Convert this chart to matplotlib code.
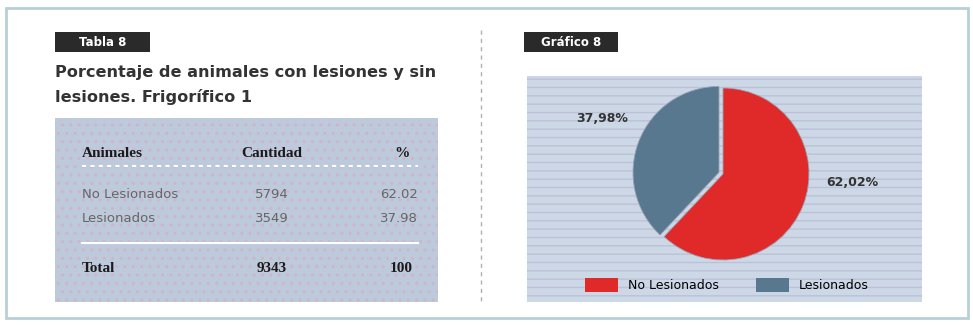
import matplotlib
matplotlib.use("Agg")
import matplotlib.pyplot as plt
from matplotlib.patches import Rectangle, Patch
from matplotlib.lines import Line2D

# Datos
categorias = ["No Lesionados", "Lesionados"]
cantidad = [5794, 3549]
porcentaje = [62.02, 37.98]
total_cantidad = 9343
total_pct = 100
colores = ["#e02a2a", "#587890"]

W, H = 973, 325
fig = plt.figure(figsize=(W / 100, H / 100), dpi=100)
fig.patch.set_facecolor("white")


def fx(x):
    return x / W


def fy(y):
    return 1 - y / H


def caja(x0, y0, x1, y1, **kw):
    r = Rectangle((fx(x0), fy(y1)), fx(x1) - fx(x0), fy(y0) - fy(y1),
                  transform=fig.transFigure, **kw)
    fig.patches.append(r)
    return r


# marco general
caja(6, 8, 968, 318, facecolor="none", edgecolor="#b7d0d8", linewidth=2)

# separador vertical
fig.add_artist(Line2D([fx(481), fx(481)], [fy(30), fy(302)], color="#b0b0b0",
                      linestyle=(0, (3, 3)), linewidth=1, transform=fig.transFigure))

# etiquetas negras
for (x0, x1, txt) in [(55, 150, "Tabla 8"), (524, 618, "Gráfico 8")]:
    caja(x0, 32, x1, 52, facecolor="#2a2a2a", edgecolor="none")
    fig.text(fx((x0 + x1) / 2), fy(42), txt, color="white", fontsize=8.5,
             fontweight="bold", ha="center", va="center")

# titulo de la tabla
fig.text(fx(55), fy(72), "Porcentaje de animales con lesiones y sin",
         fontsize=11.6, fontweight="bold", color="#333333", va="center")
fig.text(fx(55), fy(97), "lesiones. Frigorífico 1",
         fontsize=11.6, fontweight="bold", color="#333333", va="center")

# panel de la tabla
caja(55, 118, 438, 302, facecolor="#bccadb", edgecolor="#d0b4c8",
     hatch="..", linewidth=0)

serif = "Liberation Serif"
fig.text(fx(82), fy(153), "Animales", family=serif, fontweight="bold",
         fontsize=11, color="#1a1a1a", va="center")
fig.text(fx(272), fy(153), "Cantidad", family=serif, fontweight="bold",
         fontsize=11, color="#1a1a1a", va="center", ha="center")
fig.text(fx(410), fy(153), "%", family=serif, fontweight="bold",
         fontsize=11, color="#1a1a1a", va="center", ha="right")
fig.add_artist(Line2D([fx(82), fx(418)], [fy(166), fy(166)], color="white",
                      linestyle=(0, (2, 2)), linewidth=1.5, transform=fig.transFigure))

for i, (cat, c, p) in enumerate(zip(categorias, cantidad, porcentaje)):
    y = 195 + i * 23
    fig.text(fx(82), fy(y), cat, fontsize=9.5, color="#666666", va="center")
    fig.text(fx(272), fy(y), str(c), fontsize=9.5, color="#666666",
             va="center", ha="center")
    fig.text(fx(418), fy(y), f"{p:.2f}", fontsize=9.5, color="#666666",
             va="center", ha="right")

fig.add_artist(Line2D([fx(82), fx(418)], [fy(243), fy(243)], color="white",
                      linewidth=1.5, transform=fig.transFigure))
fig.text(fx(82), fy(268), "Total", family=serif, fontweight="bold",
         fontsize=11, color="#1a1a1a", va="center")
fig.text(fx(272), fy(268), str(total_cantidad), family=serif, fontweight="bold",
         fontsize=11, color="#1a1a1a", va="center", ha="center")
fig.text(fx(413), fy(268), str(total_pct), family=serif, fontweight="bold",
         fontsize=11, color="#1a1a1a", va="center", ha="right")

# panel del grafico
caja(527, 76, 922, 302, facecolor="#cdd8e6", edgecolor="#bdc0d8",
     hatch="--", linewidth=0)

# pie
cx, cy, r = 723, 174, 86
half = 100
ax = fig.add_axes([fx(cx - half), fy(cy + half), 2 * half / W, 2 * half / H])
ax.set_zorder(5)
ax.patch.set_visible(False)
ax.set_xlim(-half / r, half / r)
ax.set_ylim(-half / r, half / r)
ax.axis("off")
wedges, _ = ax.pie(porcentaje, colors=colores, startangle=90, counterclock=False,
                   explode=[0, 0.05], radius=1,
                   wedgeprops=dict(edgecolor="#9aa4b4", linewidth=0.6))
ax.set_xlim(-half / r, half / r)
ax.set_ylim(-half / r, half / r)
ax.set_aspect("auto")

lbl = [f"{p:.2f}%".replace(".", ",") for p in porcentaje]
ax.text(1.50, -0.10, lbl[0], fontsize=9, fontweight="bold", color="#333333",
        ha="center", va="center")
ax.text(-1.40, 0.65, lbl[1], fontsize=9, fontweight="bold", color="#333333",
        ha="center", va="center")

handles = [Patch(facecolor=c, edgecolor="none") for c in colores]
leg = fig.legend(handles, categorias, loc="center", bbox_to_anchor=(fx(727), fy(285)),
                 ncol=2, frameon=False, fontsize=9, handlelength=2.6, handleheight=1.4,
                 columnspacing=3, handletextpad=0.8)
leg.set_zorder(6)

fig.savefig("out.png", dpi=100)
